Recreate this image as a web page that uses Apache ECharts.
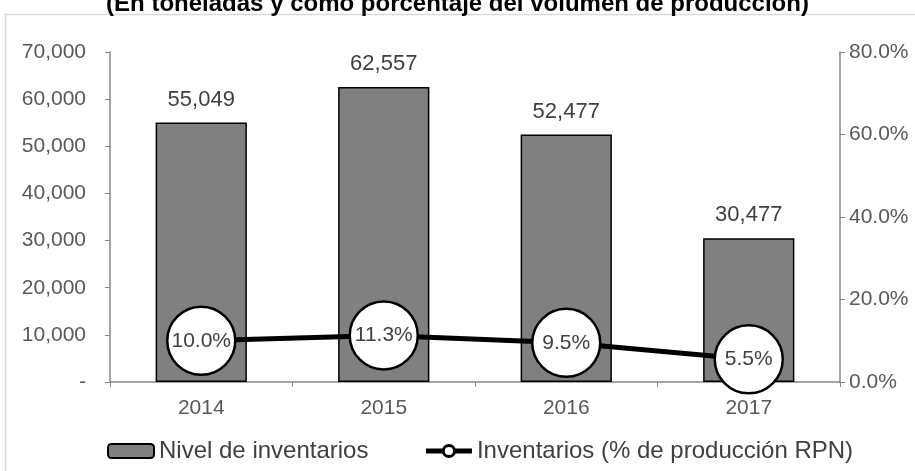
<!DOCTYPE html>
<html>
<head>
<meta charset="utf-8">
<script src="https://cdn.jsdelivr.net/npm/echarts@6/dist/echarts.min.js"></script>
<style>
  html, body { margin: 0; padding: 0; background: #fff; }
  #chart { width: 915px; height: 471px; }
</style>
</head>
<body>
<div id="chart"></div>
<script>
// data
const years = ['2014', '2015', '2016', '2017'];
const inventoryTons = [55049, 62557, 52477, 30477];
const inventoryPct = [10.0, 11.3, 9.5, 5.5];

const chart = echarts.init(document.getElementById('chart'));
const font = 'Liberation Sans, Arial, sans-serif';

const option = {
  animation: false,
  textStyle: { fontFamily: font },
  title: {
    text: '(En toneladas y como porcentaje del volumen de producción)',
    left: 'center',
    top: -8,
    padding: 0,
    textStyle: { fontSize: 24, fontWeight: 'bold', color: '#000', fontFamily: font }
  },
  graphic: [{
    type: 'rect',
    shape: { x: 5.5, y: 14.5, width: 915, height: 470 },
    style: { fill: 'none', stroke: '#d9d9d9', lineWidth: 1.5 },
    silent: true
  }],
  legend: {
    bottom: 8,
    left: 107,
    padding: 0,
    itemWidth: 46,
    itemHeight: 14,
    itemGap: 55,
    textStyle: { fontSize: 24, color: '#404040', fontFamily: font },
    data: [
      { name: 'Nivel de inventarios' },
      {
        name: 'Inventarios (% de producción RPN)',
        lineStyle: { width: 5, color: '#000' },
        itemStyle: { color: '#fff', borderColor: '#000', borderWidth: 3 }
      }
    ]
  },
  grid: { left: 110, right: 75, top: 52, bottom: 89 },
  xAxis: {
    type: 'category',
    data: years,
    axisLine: { lineStyle: { color: '#868686', width: 1.5 } },
    axisTick: { show: true, length: 5, lineStyle: { color: '#868686' } },
    axisLabel: { fontSize: 21, color: '#595959', margin: 16 }
  },
  yAxis: [{
    type: 'value',
    min: 0, max: 70000, interval: 10000,
    axisLine: { show: true, lineStyle: { color: '#868686', width: 1.5 } },
    axisTick: { show: true, length: 5, lineStyle: { color: '#868686' } },
    splitLine: { show: false },
    axisLabel: {
      fontSize: 21, color: '#595959', margin: 24,
      formatter: v => v === 0 ? '-' : v.toLocaleString('en-US')
    }
  }, {
    type: 'value',
    min: 0, max: 80, interval: 20,
    axisLine: { show: true, lineStyle: { color: '#868686', width: 1.5 } },
    axisTick: { show: true, length: 5, lineStyle: { color: '#868686' } },
    splitLine: { show: false },
    axisLabel: {
      fontSize: 21, color: '#595959', margin: 9,
      formatter: v => v.toFixed(1) + '%'
    }
  }],
  series: [{
    name: 'Nivel de inventarios',
    type: 'bar',
    data: inventoryTons,
    barWidth: '50%',
    itemStyle: { color: '#808080', borderColor: '#000', borderWidth: 1.5 },
    label: {
      show: true, position: 'top', distance: 12,
      fontSize: 22, color: '#404040',
      formatter: p => p.value.toLocaleString('en-US')
    }
  }, {
    name: 'Inventarios (% de producción RPN)',
    type: 'line',
    yAxisIndex: 1,
    data: inventoryPct,
    symbol: 'circle',
    symbolSize: 68,
    lineStyle: { color: '#000', width: 5 },
    itemStyle: { color: '#fff', borderColor: '#000', borderWidth: 2.5 },
    label: {
      show: true, position: 'inside',
      fontSize: 21, color: '#404040',
      formatter: p => p.value.toFixed(1) + '%'
    },
    z: 5
  }]
};

chart.setOption(option);
</script>
</body>
</html>
